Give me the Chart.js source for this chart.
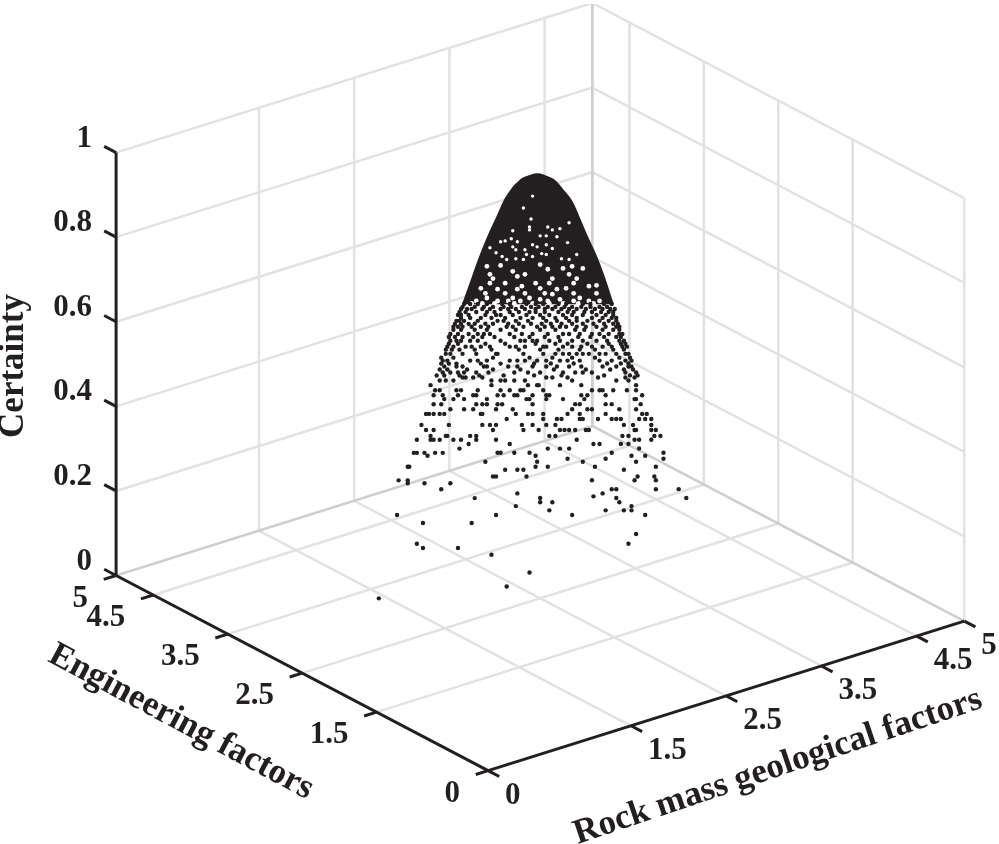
<!DOCTYPE html>
<html>
<head>
<meta charset="utf-8">
<title>Certainty cloud</title>
<script src="https://cdn.jsdelivr.net/npm/chart.js@4"></script>
<style>
body { margin: 0; background: #fff; }
canvas { display: block; }
</style>
</head>
<body>
<canvas id="myChart" width="999" height="844"></canvas>
<script>
// Axis ticks and their labels
let rockTicks = [0, 1.5, 2.5, 3.5, 4.5, 5];
let rockLabels = ["0", "1.5", "2.5", "3.5", "4.5", "5"];
let engTicks = [0, 1.5, 2.5, 3.5, 4.5, 5];
let engLabels = ["0", "1.5", "2.5", "3.5", "4.5", "5"];
let certaintyTicks = [0, 0.2, 0.4, 0.6, 0.8, 1];
let certaintyLabels = ["0", "0.2", "0.4", "0.6", "0.8", "1"];

// The picture is flat, so a dot's depth can't be read from it. Every dot is
// put on the upright plane through the peak and eng follows from rock.
// Dots read row by row: one certainty per row, the rock values of that row.
let dotCertainty = [0, 0.028, 0.061, 0.103, 0.119, 0.129, 0.152, 0.178, 0.197, 0.208, 0.218, 0.227, 0.237, 0.241, 0.248, 0.258, 0.272, 0.279, 0.288, 0.304, 0.311, 0.323, 0.330, 0.337, 0.344, 0.354, 0.365, 0.375, 0.384, 0.398, 0.410, 0.424, 0.436, 0.447, 0.459, 0.471, 0.480, 0.492, 0.504, 0.515, 0.522, 0.534, 0.548, 0.562, 0.569, 0.578, 0.595, 0.602, 0.609, 0.625, 0.635, 0.642, 0.656, 0.663, 0.670, 0.684, 0.696, 0.689, 0.677, 0.649, 0.618, 0.588, 0.555, 0.541, 0.527];
let dotRock = [
  [1.44], [2.28], [2.43], [2.18], [1.73, 1.96], [1.69, 3.08], [3.13], [1.73, 2.05],
  [1.56, 2.21, 2.71, 3.19], [2.56, 2.93, 3.05, 3.10], [2.34, 3.10], [2.50, 2.58, 3.02],
  [2.07, 2.50, 3.00, 3.46], [2.85], [2.35, 2.91], [1.85, 2.97, 3.00, 3.26, 3.41],
  [1.63, 1.74, 1.91], [1.57, 1.63, 2.84, 3.12, 3.26], [2.19, 2.21, 2.41, 3.14, 3.25],
  [2.27, 2.35, 2.39, 3.05], [1.63, 1.64, 2.47, 2.55, 2.86, 3.26], [2.14, 2.48, 2.78, 3.13],
  [2.68, 2.93, 3.31], [1.76, 2.47, 3.10, 3.19],
  [1.67, 1.69, 1.74, 1.81, 1.86, 2.22, 2.24, 2.33, 2.43, 2.97, 3.31],
  [1.97, 2.55, 2.63, 2.69, 3.15], [2.03, 2.30, 2.85, 2.89, 3.03, 3.08],
  [1.69, 1.78, 1.80, 1.84, 1.93, 1.98, 2.08, 2.21, 2.74, 3.12, 3.15, 3.23],
  [1.78, 1.88, 1.89, 2.04, 2.08, 2.56, 2.60, 3.04, 3.08, 3.25, 3.29],
  [1.75, 1.80, 2.19, 2.39, 2.49, 2.63, 2.66, 2.69, 2.73, 2.80, 2.82, 3.12, 3.13, 3.23, 3.26],
  [1.72, 1.90, 2.12, 2.17, 2.21, 2.38, 2.45, 2.54, 2.60, 3.05, 3.11, 3.23],
  [2.28, 2.52, 2.61, 2.64, 2.76, 2.78, 2.88, 2.97, 3.00, 3.03, 3.15, 3.19, 3.23],
  [1.75, 1.77, 1.80, 1.84, 1.87, 2.11, 2.12, 2.34, 2.42, 2.45, 2.52, 2.68, 2.76, 2.93, 3.17, 3.20],
  [1.91, 2.00, 2.06, 2.21, 2.32, 2.71, 2.81, 2.84, 3.02, 3.13],
  [1.80, 1.85, 2.08, 2.12, 2.15, 2.22, 2.25, 2.45, 2.73, 2.76, 2.93, 2.97, 3.16],
  [1.87, 1.93, 2.00, 2.15, 2.41, 2.43, 2.54, 2.65, 2.79, 3.12, 3.13],
  [1.80, 1.86, 1.96, 2.06, 2.08, 2.22, 2.26, 2.33, 2.35, 2.45, 2.54, 2.56, 2.77, 2.81, 2.93, 3.17],
  [1.81, 1.84, 1.95, 1.98, 2.09, 2.24, 2.30, 2.37, 2.39, 2.52, 2.84, 2.89, 2.91, 2.98, 3.07, 3.13],
  [1.78, 2.18, 2.42, 2.48, 2.49, 2.63, 2.77, 3.13],
  [1.84, 1.88, 1.93, 2.18, 2.24, 2.27, 2.33, 2.40, 2.71, 3.00, 3.08],
  [1.99, 2.01, 2.06, 2.12, 2.54, 2.58, 2.68, 2.88, 3.06, 3.12],
  [1.86, 1.91, 1.96, 2.00, 2.08, 2.16, 2.33, 2.42, 2.50, 2.65, 2.73, 2.78, 2.84, 3.06, 3.13],
  [1.87, 1.95, 1.99, 2.13, 2.15, 2.29, 2.35, 2.45, 2.54, 2.61, 2.69, 2.77, 2.91, 3.00, 3.08, 3.10],
  [1.86, 1.89, 2.04, 2.09, 2.15, 2.30, 2.35, 2.40, 2.48, 2.54, 2.63, 2.68, 2.76, 2.89, 2.97, 3.06, 3.10],
  [1.85, 1.93, 2.19, 2.43, 2.58, 2.71, 2.86, 3.02, 3.09],
  [1.88, 1.91, 1.99, 2.08, 2.21, 2.22, 2.39, 2.52, 2.60, 2.65, 2.69, 2.74, 2.78, 2.82, 2.89, 2.93, 3.00, 3.06, 3.08],
  [1.89, 1.93, 2.01, 2.05, 2.11, 2.17, 2.30, 2.34, 2.40, 2.52, 2.54, 2.65, 2.71, 2.77, 2.84, 2.91, 2.97, 3.04, 3.07],
  [1.90, 1.96, 2.14, 2.27, 2.47, 2.60, 2.68, 2.81, 2.95, 3.03, 3.06],
  [1.91, 1.95, 1.98, 2.04, 2.09, 2.24, 2.37, 2.40, 2.45, 2.48, 2.56, 2.63, 2.71, 2.78, 2.87, 2.94, 3.02, 3.05],
  [1.91, 1.96, 2.03, 2.09, 2.13, 2.17, 2.30, 2.38, 2.45, 2.55, 2.65, 2.69, 2.76, 2.84, 2.89, 2.95, 3.02, 3.04],
  [1.93, 1.98, 2.07, 2.15, 2.24, 2.34, 2.50, 2.60, 2.73, 2.79, 2.91, 2.98, 3.02],
  [1.93, 1.96, 1.99, 2.05, 2.11, 2.16, 2.28, 2.32, 2.39, 2.48, 2.53, 2.58, 2.63, 2.67, 2.74, 2.80, 2.87, 2.93, 3.00, 3.02],
  [1.95, 1.97, 2.00, 2.09, 2.22, 2.26, 2.34, 2.42, 2.54, 2.61, 2.69, 2.74, 2.81, 2.89, 2.95, 3.00],
  [1.98, 2.04, 2.11, 2.18, 2.27, 2.37, 2.45, 2.52, 2.60, 2.67, 2.74, 2.84, 2.91, 2.97, 3.00],
  [1.96, 1.98, 2.03, 2.14, 2.21, 2.24, 2.32, 2.41, 2.50, 2.56, 2.65, 2.71, 2.78, 2.87, 2.93, 2.98],
  [1.98, 2.02, 2.05, 2.12, 2.17, 2.24, 2.29, 2.34, 2.40, 2.47, 2.53, 2.58, 2.64, 2.69, 2.74, 2.80, 2.86, 2.91, 2.96, 2.99],
  [2.00, 2.04, 2.09, 2.15, 2.25, 2.30, 2.41, 2.47, 2.52, 2.62, 2.67, 2.78, 2.83, 2.92, 2.97],
  [1.99, 2.07, 2.13, 2.19, 2.26, 2.31, 2.38, 2.44, 2.49, 2.55, 2.60, 2.66, 2.71, 2.77, 2.83, 2.89, 2.94],
  [1.97, 2.01, 2.08, 2.15, 2.20, 2.30, 2.36, 2.43, 2.47, 2.53, 2.62, 2.68, 2.72, 2.79, 2.84, 2.90, 2.95, 2.98],
  [1.94, 1.98, 2.03, 2.07, 2.14, 2.19, 2.29, 2.36, 2.44, 2.51, 2.57, 2.64, 2.71, 2.78, 2.85, 2.92, 2.98, 3.01],
  [1.90, 1.94, 1.99, 2.06, 2.12, 2.20, 2.33, 2.43, 2.53, 2.62, 2.75, 2.83, 2.92, 3.00, 3.03],
  [1.88, 1.92, 1.97, 2.07, 2.18, 2.36, 2.50, 2.62, 2.76, 2.86, 2.98, 3.05],
  [1.85, 1.90, 1.95, 2.11, 2.24, 2.46, 2.57, 2.72, 2.94, 3.03, 3.08],
  [1.84, 1.89, 2.02, 2.19, 2.37, 2.59, 2.80, 2.96, 3.05, 3.11],
  [1.82, 1.87, 1.97, 2.10, 2.26, 2.46, 2.64, 2.92, 3.09, 3.14]
];

// Top of the cloud is solid black: outline of that cap
let capRock = [2.00, 2.05, 2.10, 2.16, 2.22, 2.28, 2.33, 2.36, 2.39, 2.43, 2.48, 2.53, 2.58, 2.61, 2.64, 2.70, 2.75, 2.80, 2.86, 2.91, 2.97];
let capTop = [0.695, 0.745, 0.796, 0.850, 0.897, 0.944, 0.970, 0.981, 0.990, 0.996, 1, 0.996, 0.988, 0.978, 0.965, 0.937, 0.897, 0.855, 0.808, 0.761, 0.695];
let capBaseRock = [2.00, 2.97];
let capBase = [0.695, 0.695];

// White flecks inside the cap
let gapRock = [2.45, 2.39, 2.44, 2.69, 2.43, 2.43, 2.32, 2.55, 2.58, 2.63, 2.50, 2.54, 2.61, 2.24, 2.27, 2.31, 2.35, 2.45, 2.48, 2.54, 2.68, 2.17, 2.21, 2.32, 2.34, 2.40, 2.41, 2.39, 2.58, 2.51, 2.45, 2.25, 2.28, 2.34, 2.54, 2.64, 2.69, 2.74, 2.15, 2.24, 2.17, 2.19, 2.32, 2.35, 2.40, 2.50, 2.55, 2.65, 2.71, 2.58, 2.69, 2.74, 2.78, 2.82, 2.87, 2.22, 2.11, 2.35, 2.38, 2.47, 2.50, 2.61, 2.67, 2.15, 2.32, 2.43, 2.50, 2.58, 2.63, 2.76, 2.08, 2.22, 2.29, 2.37, 2.55, 2.72, 2.82, 2.89, 2.14, 2.27, 2.40, 2.53, 2.72, 2.87, 2.17, 2.27, 2.56, 2.72, 2.05, 2.12, 2.20, 2.33, 2.45, 2.56, 2.65, 2.75, 2.85];
let gapCertainty = [0.951, 0.923, 0.897, 0.888, 0.878, 0.871, 0.869, 0.878, 0.871, 0.874, 0.857, 0.857, 0.855, 0.843, 0.845, 0.850, 0.843, 0.836, 0.831, 0.836, 0.841, 0.829, 0.817, 0.831, 0.824, 0.824, 0.813, 0.801, 0.827, 0.815, 0.808, 0.808, 0.801, 0.803, 0.813, 0.803, 0.801, 0.813, 0.785, 0.787, 0.766, 0.756, 0.773, 0.761, 0.766, 0.789, 0.778, 0.780, 0.785, 0.756, 0.766, 0.756, 0.780, 0.738, 0.740, 0.731, 0.733, 0.731, 0.738, 0.745, 0.733, 0.731, 0.733, 0.710, 0.710, 0.710, 0.707, 0.719, 0.707, 0.710, 0.703, 0.703, 0.703, 0.703, 0.703, 0.703, 0.703, 0.703, 0.721, 0.721, 0.721, 0.721, 0.721, 0.721, 0.745, 0.745, 0.745, 0.745, 0.697, 0.697, 0.697, 0.697, 0.697, 0.697, 0.697, 0.697, 0.697];

const ink = "#231f20";
const gridColor = "#e2e2e2";
const edgeColor = "#cfcfcf";

// 3D view: where the three unit vectors land on the 2D scales
function project(rock, eng, certainty) {
    return {
        x: 488 + 96 * rock - 75 * eng,
        y: 774 - 30.2 * rock - 39.4 * eng - 427 * certainty
    };
}

// eng on the upright plane through the peak
function engOnPlane(rock) {
    return 2.5 - 0.766 * (rock - 2.5);
}

function planePoint(rock, certainty) {
    return project(rock, engOnPlane(rock), certainty);
}

function line3d(points, color, width, order) {
    return {
        data: points.map(p => project(p[0], p[1], p[2])),
        showLine: true,
        borderColor: color,
        borderWidth: width,
        pointRadius: 0,
        fill: false,
        order: order
    };
}

let datasets = [];

// walls and floor grid
rockTicks.forEach(r => {
    if (r === 0) return;
    datasets.push(line3d([[r, 0, 0], [r, 5, 0], [r, 5, 1]], r === 5 ? edgeColor : gridColor, 2.5, r === 5 ? 5 : 6));
});
engTicks.forEach(e => {
    if (e === 0) {
        datasets.push(line3d([[5, 0, 0], [5, 0, 1]], gridColor, 2.5, 6));
        return;
    }
    datasets.push(line3d([[0, e, 0], [5, e, 0], [5, e, 1]], e === 5 ? edgeColor : gridColor, 2.5, e === 5 ? 5 : 6));
});
certaintyTicks.forEach(c => {
    if (c === 0) return;
    datasets.push(line3d([[0, 5, c], [5, 5, c], [5, 0, c]], gridColor, 2.5, 6));
});

// cap of the cloud
datasets.push({
    data: capRock.map((r, i) => planePoint(r, capTop[i])),
    showLine: true,
    borderColor: ink,
    backgroundColor: ink,
    borderWidth: 4,
    tension: 0.4,
    pointRadius: 0,
    fill: "+1",
    order: 3
});
datasets.push({
    data: capBaseRock.map((r, i) => planePoint(r, capBase[i])),
    showLine: true,
    borderColor: "rgba(0,0,0,0)",
    borderWidth: 0,
    pointRadius: 0,
    fill: false,
    order: 3
});

datasets.push({
    data: gapRock.map((r, i) => planePoint(r, gapCertainty[i])),
    backgroundColor: "#ffffff",
    borderWidth: 0,
    pointRadius: ctx => gapCertainty[ctx.dataIndex] < 0.79 ? 2.4 : 1.7,
    order: 2
});

let dots = [];
dotRock.forEach((row, i) => {
    row.forEach(r => dots.push(planePoint(r, dotCertainty[i])));
});
datasets.push({
    data: dots,
    backgroundColor: ink,
    borderWidth: 0,
    pointRadius: 2.2,
    order: 1
});

// black axes and tick marks
datasets.push(line3d([[0, 0, 0], [5, 0, 0]], ink, 3, 0));
datasets.push(line3d([[0, 0, 0], [0, 5, 0]], ink, 3, 0));
datasets.push(line3d([[0, 5, 0], [0, 5, 1]], ink, 3, 0));
rockTicks.forEach(r => datasets.push(line3d([[r, 0, 0], [r, -0.15, 0]], ink, 3, 0)));
engTicks.forEach(e => datasets.push(line3d([[0, e, 0], [-0.13, e, 0]], ink, 3, 0)));
certaintyTicks.forEach(c => datasets.push(line3d([[0, 5, c], [0, 5.16, c]], ink, 3, 0)));

let axisText = {
    id: "axisText",
    afterDraw(chart) {
        let c = chart.ctx;
        let sx = chart.scales.x;
        let sy = chart.scales.y;
        c.save();
        c.fillStyle = ink;
        c.textBaseline = "middle";
        c.font = "bold 31px 'Liberation Serif'";

        c.textAlign = "left";
        rockTicks.forEach((r, i) => {
            let p = project(r, 0, 0);
            c.fillText(rockLabels[i], sx.getPixelForValue(p.x) + 17, sy.getPixelForValue(p.y) + 25);
        });
        c.textAlign = "right";
        engTicks.forEach((e, i) => {
            let p = project(0, e, 0);
            c.fillText(engLabels[i], sx.getPixelForValue(p.x) - 28, sy.getPixelForValue(p.y) + 23);
        });
        certaintyTicks.forEach((t, i) => {
            let p = project(0, 5, t);
            c.fillText(certaintyLabels[i], sx.getPixelForValue(p.x) - 24, sy.getPixelForValue(p.y) - 14);
        });

        c.textAlign = "center";
        c.font = "bold 35px 'Liberation Serif'";
        title(c, "Certainty", 14, 366, -Math.PI / 2);
        title(c, "Engineering factors", 181, 722, 0.49);
        title(c, "Rock mass geological factors", 778, 767, -0.325);
        c.restore();
    }
};

function title(c, text, x, y, angle) {
    c.save();
    c.translate(x, y);
    c.rotate(angle);
    c.fillText(text, 0, 0);
    c.restore();
}

let ctx = document.getElementById("myChart");

let myChart = new Chart(ctx, {
    type: "scatter",
    data: { datasets: datasets },
    options: {
        responsive: false,
        animation: false,
        layout: { padding: 0 },
        plugins: {
            legend: { display: false },
            tooltip: { enabled: false },
            title: { display: false }
        },
        scales: {
            x: { type: "linear", min: 0, max: 999, display: false },
            y: { type: "linear", min: 0, max: 844, reverse: true, display: false }
        }
    },
    plugins: [axisText]
});
</script>
</body>
</html>
